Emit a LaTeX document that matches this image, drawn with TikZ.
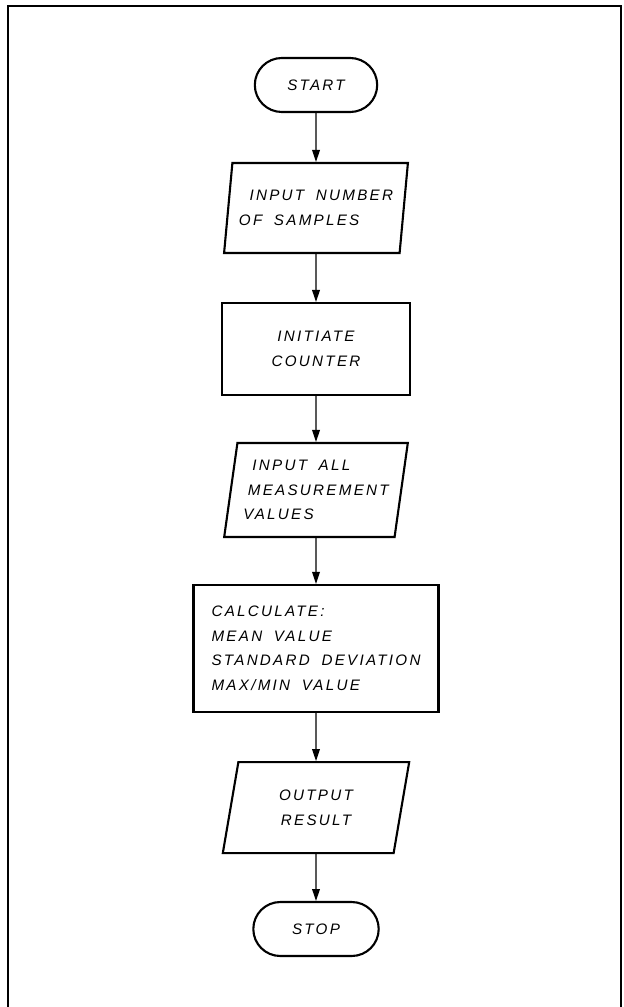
\documentclass[tikz,border=0pt]{standalone}
\usepackage{fontspec}
\newfontfamily\lettering[LetterSpace=15,WordSpace=1.8]{Liberation Sans}
\usetikzlibrary{arrows.meta,shapes.geometric,shapes.misc}

\begin{document}
\begin{tikzpicture}[
  box/.style={draw, line width=1.5pt, inner sep=2pt, font=\lettering\itshape\fontsize{10.8}{17.5}\selectfont},
  term/.style={box, rounded rectangle, minimum width=3.2cm, minimum height=1.35cm},
  proc/.style={box, rectangle, minimum width=4.7cm, minimum height=2.3cm, align=center},
  io/.style={box, trapezium, trapezium left angle=79, trapezium right angle=101, trapezium stretches=true, minimum width=4.6cm, minimum height=2.25cm, align=left},
  flow/.style={-{Triangle[length=8.5pt,width=5.5pt]}, line width=0.8pt}
]
\useasboundingbox (0,0) rectangle (15.575,-25.175);
\draw[line width=1.2pt] (0.2,-25.175) -- (0.2,-0.15) -- (15.525,-0.15) -- (15.525,-25.175);
% flowchart
\node[term] (start) at (7.9,-2.125) {START};
\node[io] (samples) at (7.9,-5.2) {\hspace*{0.7em}INPUT NUMBER\\OF SAMPLES};
\node[proc] (counter) at (7.9,-8.725) {INITIATE\\COUNTER};
\node[io, minimum height=2.35cm] (values) at (7.9,-12.25) {\hspace*{0.6em}INPUT ALL\\\hspace*{0.3em}MEASUREMENT\\VALUES};
\node[proc, minimum width=6.125cm, minimum height=3.175cm, align=left] (calc) at (7.9,-16.21) {CALCULATE:\\MEAN VALUE\\STANDARD DEVIATION\\MAX/MIN VALUE};
\node[io, minimum width=4.675cm, minimum height=2.275cm, align=center] (output) at (7.9,-20.19) {OUTPUT\\RESULT};
\node[term, minimum width=3.275cm] (stop) at (7.9,-23.225) {STOP};
\draw[flow] (start) -- (samples);
\draw[flow] (samples) -- (counter);
\draw[flow] (counter) -- (values);
\draw[flow] (values) -- (calc);
\draw[flow] (calc) -- (output);
\draw[flow] (output) -- (stop);
\end{tikzpicture}
\end{document}
